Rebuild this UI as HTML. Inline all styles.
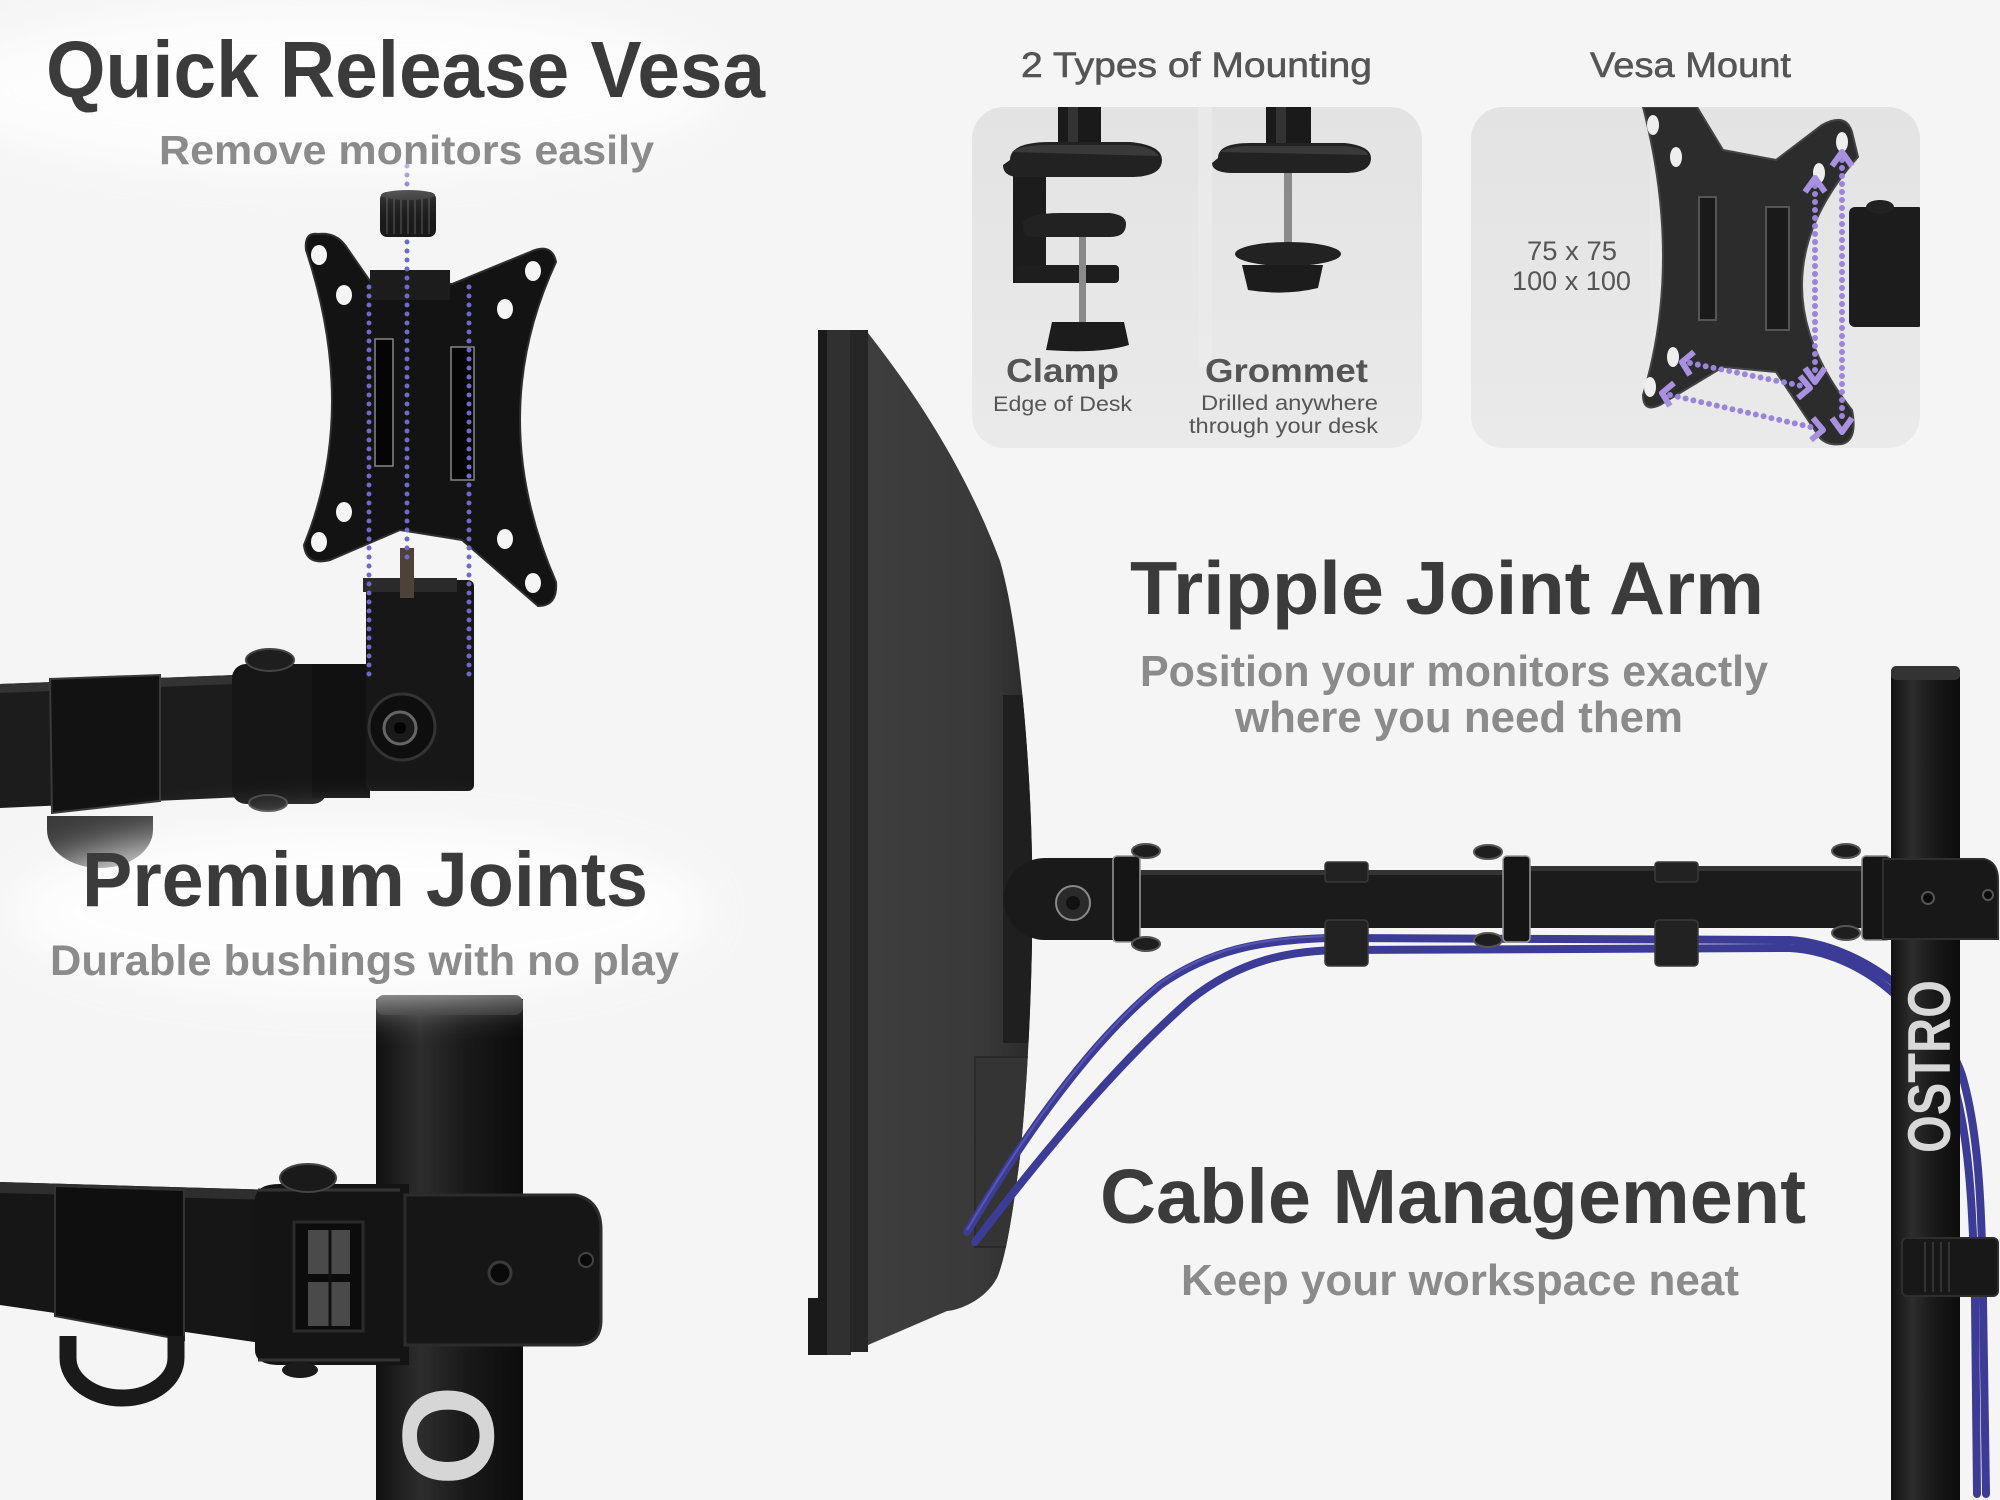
<!DOCTYPE html>
<html><head><meta charset="utf-8">
<style>
html,body{margin:0;padding:0;background:#f5f5f5;width:2000px;height:1500px;overflow:hidden;}
svg{display:block;overflow:hidden;}
text{font-family:"Liberation Sans",Arial,sans-serif;}
</style></head><body>
<svg width="2000" height="1500" viewBox="0 0 2000 1500" xmlns="http://www.w3.org/2000/svg">
<defs>
 <filter id="blur" x="-50%" y="-50%" width="200%" height="200%"><feGaussianBlur stdDeviation="22"/></filter>
 <linearGradient id="pole" x1="0" x2="1" y1="0" y2="0">
   <stop offset="0" stop-color="#111"/><stop offset="0.3" stop-color="#2d2d2d"/><stop offset="0.6" stop-color="#1a1a1a"/><stop offset="1" stop-color="#0c0c0c"/>
 </linearGradient>
 <linearGradient id="panel" x1="0" x2="0" y1="0" y2="1">
   <stop offset="0" stop-color="#e3e3e3"/><stop offset="1" stop-color="#eaeaea"/>
 </linearGradient>
 <linearGradient id="monback" x1="0" x2="1" y1="0" y2="0">
   <stop offset="0" stop-color="#3e3e3e"/><stop offset="0.7" stop-color="#393939"/><stop offset="1" stop-color="#2a2a2a"/>
 </linearGradient>
 <clipPath id="p1"><rect x="972" y="107" width="450" height="341" rx="32"/></clipPath>
 <clipPath id="p2"><rect x="1471" y="107" width="449" height="341" rx="32"/></clipPath>
 <clipPath id="all"><rect x="0" y="0" width="2000" height="1500"/></clipPath>
 <clipPath id="shell"><path d="M868,333 C900,374 960,454 1000,561 C1020,630 1030,760 1032,856 C1034,960 1028,1080 1020,1157 C1012,1220 1005,1260 997,1278 C985,1300 960,1310 947,1311 L868,1345 Z"/></clipPath>
</defs>
<g clip-path="url(#all)">
<rect width="2000" height="1500" fill="#f5f5f5"/>

<!-- ============ TOP LEFT: QUICK RELEASE ============ -->
<path d="M0,684 L312,672 L312,794 L0,808 Z" fill="#1c1c1c"/>
<path d="M0,684 L312,672 L312,681 L0,693 Z" fill="#333"/>
<path d="M50,679 L160,675 L160,801 L52,813 Z" fill="#121212" stroke="#3a3a3a" stroke-width="2"/>
<path d="M47,816 L153,816 L153,830 A53,38 0 0 1 47,830 Z" fill="#3a3a3a"/>
<rect x="232" y="664" width="95" height="140" rx="14" fill="#161616"/>
<ellipse cx="270" cy="660" rx="24" ry="11" fill="#1e1e1e" stroke="#444" stroke-width="2"/>
<ellipse cx="268" cy="803" rx="19" ry="8" fill="#1e1e1e" stroke="#444" stroke-width="2"/>
<rect x="312" y="664" width="58" height="134" fill="#111"/>
<rect x="366" y="580" width="108" height="211" rx="6" fill="#171717"/>
<rect x="363" y="578" width="94" height="14" fill="#2a2a2a"/>
<rect x="400" y="548" width="14" height="50" fill="#4d4138"/>
<circle cx="402" cy="727" r="33" fill="#0e0e0e" stroke="#333" stroke-width="3"/>
<circle cx="400" cy="728" r="16" fill="#1a1a1a" stroke="#666" stroke-width="3"/>
<circle cx="400" cy="728" r="6" fill="#000"/>
<path d="M318,234 Q335,232 345,245 L372,284 L452,284 L530,252 Q552,242 556,262 Q484,417 556,582 Q558,606 538,606 L462,540 L400,530 L330,560 Q306,566 304,545 Q359,410 306,250 Q304,232 318,234 Z" fill="#131313" stroke="#2e2e2e" stroke-width="2"/>
<rect x="370" y="270" width="80" height="30" fill="#1c1c1c"/>
<g fill="#f5f5f5">
<ellipse cx="319" cy="255" rx="8" ry="10"/><ellipse cx="344" cy="295" rx="8" ry="10"/>
<ellipse cx="533" cy="271" rx="8" ry="10"/><ellipse cx="505" cy="309" rx="8" ry="10"/>
<ellipse cx="344" cy="512" rx="8" ry="10"/><ellipse cx="319" cy="542" rx="8" ry="10"/>
<ellipse cx="505" cy="539" rx="8" ry="10"/><ellipse cx="533" cy="583" rx="8" ry="10"/>
</g>
<rect x="375" y="339" width="18" height="127" fill="#050505" stroke="#888" stroke-width="1.5"/>
<rect x="451" y="347" width="23" height="133" fill="#050505" stroke="#888" stroke-width="1.5"/>
<rect x="380" y="192" width="56" height="45" rx="7" fill="#1a1a1a"/>
<g stroke="#3a3a3a" stroke-width="2">
<line x1="387" y1="198" x2="387" y2="234"/><line x1="394" y1="198" x2="394" y2="234"/><line x1="401" y1="198" x2="401" y2="234"/>
<line x1="408" y1="198" x2="408" y2="234"/><line x1="415" y1="198" x2="415" y2="234"/><line x1="422" y1="198" x2="422" y2="234"/><line x1="429" y1="198" x2="429" y2="234"/>
</g>
<ellipse cx="408" cy="195" rx="27" ry="5" fill="#333"/>
<g stroke="#7268c8" stroke-width="5" stroke-linecap="round" stroke-dasharray="0 9" fill="none">
<line x1="407" y1="166" x2="407" y2="188"/>
<line x1="407" y1="242" x2="407" y2="560"/>
<line x1="369" y1="287" x2="369" y2="678"/>
<line x1="469" y1="287" x2="469" y2="678"/>
</g>

<!-- ============ BOTTOM LEFT: PREMIUM JOINTS ============ -->
<rect x="376" y="999" width="147" height="501" fill="url(#pole)"/>
<rect x="376" y="995" width="147" height="20" rx="8" fill="#2a2a2a"/>
<text transform="translate(493,1385) rotate(-90)" text-anchor="end" font-size="130" font-weight="bold" fill="#d6d6d6">O</text>
<path d="M0,1182 L275,1190 L275,1345 L0,1305 Z" fill="#161616"/>
<path d="M0,1182 L275,1190 L275,1200 L0,1193 Z" fill="#2e2e2e"/>
<path d="M55,1186 L184,1190 L184,1340 L55,1316 Z" fill="#0f0f0f" stroke="#333" stroke-width="2"/>
<path d="M68,1336 L68,1358 A54,40 0 0 0 176,1358 L176,1336" fill="none" stroke="#1a1a1a" stroke-width="17"/>
<path d="M255,1200 Q255,1184 280,1184 L409,1184 L409,1365 L280,1365 Q255,1365 255,1350 Z" fill="#141414"/>
<path d="M258,1190 L400,1190" stroke="#333" stroke-width="3"/>
<path d="M258,1360 L400,1360" stroke="#333" stroke-width="3"/>
<rect x="294" y="1222" width="69" height="109" fill="#0c0c0c" stroke="#2a2a2a" stroke-width="3"/>
<rect x="308" y="1230" width="42" height="44" fill="#4a4a4a"/>
<rect x="308" y="1282" width="42" height="44" fill="#4a4a4a"/>
<line x1="330" y1="1230" x2="330" y2="1326" stroke="#111" stroke-width="3"/>
<ellipse cx="308" cy="1178" rx="28" ry="14" fill="#1a1a1a" stroke="#444" stroke-width="2"/>
<ellipse cx="300" cy="1370" rx="18" ry="8" fill="#1a1a1a"/>
<path d="M405,1195 L575,1195 Q601,1200 601,1230 L601,1320 Q601,1345 575,1345 L405,1345 Z" fill="#161616" stroke="#2c2c2c" stroke-width="3"/>
<circle cx="500" cy="1273" r="11" fill="#0a0a0a" stroke="#3a3a3a" stroke-width="3"/>
<circle cx="586" cy="1260" r="7" fill="#0a0a0a" stroke="#444" stroke-width="2"/>

<!-- glows -->
<ellipse cx="330" cy="90" rx="390" ry="85" fill="#ffffff" opacity="0.8" filter="url(#blur)"/>
<ellipse cx="360" cy="912" rx="350" ry="85" fill="#ffffff" opacity="0.85" filter="url(#blur)"/>

<text x="46" y="97" font-size="80" font-weight="bold" fill="#3b3b3b" textLength="719" lengthAdjust="spacingAndGlyphs">Quick Release Vesa</text>
<text x="159" y="164" font-size="41" font-weight="bold" fill="#8b8b8b" textLength="495" lengthAdjust="spacingAndGlyphs">Remove monitors easily</text>
<text x="82" y="906" font-size="77" font-weight="bold" fill="#3b3b3b" textLength="566" lengthAdjust="spacingAndGlyphs">Premium Joints</text>
<text x="50" y="975" font-size="43" font-weight="bold" fill="#8b8b8b" textLength="629" lengthAdjust="spacingAndGlyphs">Durable bushings with no play</text>

<!-- ============ TOP RIGHT PANELS ============ -->
<text x="1021" y="77" font-size="35" fill="#555" stroke="#555" stroke-width="0.6" textLength="351" lengthAdjust="spacingAndGlyphs">2 Types of Mounting</text>
<text x="1590" y="77" font-size="35" fill="#555" stroke="#555" stroke-width="0.6" textLength="201" lengthAdjust="spacingAndGlyphs">Vesa Mount</text>
<rect x="972" y="107" width="450" height="341" rx="32" fill="url(#panel)"/>
<rect x="1471" y="107" width="449" height="341" rx="32" fill="url(#panel)"/>
<rect x="1198" y="107" width="14" height="260" fill="#ececec" opacity="0.6"/>
<rect x="1650" y="107" width="14" height="320" fill="#ececec" opacity="0.5"/>

<g clip-path="url(#p1)">
 <rect x="1058" y="100" width="43" height="55" fill="#1a1a1a"/>
 <rect x="1068" y="100" width="10" height="55" fill="#333"/>
 <rect x="1013" y="168" width="33" height="115" fill="#1c1c1c"/>
 <path d="M1010,160 Q1010,142 1050,142 L1130,142 Q1162,145 1162,160 Q1162,177 1130,177 L1020,177 Q1003,177 1003,165 Z" fill="#222"/>
 <path d="M1012,152 Q1020,145 1050,145 L1130,145 Q1155,147 1158,156 Z" fill="#3a3a3a"/>
 <path d="M1023,222 Q1030,213 1060,213 L1110,213 Q1126,215 1126,224 Q1126,237 1110,237 L1030,237 Q1023,235 1023,228 Z" fill="#222"/>
 <rect x="1016" y="265" width="103" height="18" rx="4" fill="#1e1e1e"/>
 <rect x="1079" y="237" width="7" height="86" fill="#8a8a8a"/>
 <path d="M1052,322 L1124,322 L1129,345 Q1100,354 1046,350 Z" fill="#1c1c1c"/>
 <rect x="1266" y="100" width="45" height="55" fill="#1a1a1a"/>
 <rect x="1276" y="100" width="10" height="55" fill="#333"/>
 <path d="M1218,158 Q1218,143 1250,143 L1345,143 Q1371,146 1371,158 Q1371,173 1345,173 L1230,173 Q1212,172 1212,163 Z" fill="#222"/>
 <path d="M1220,152 Q1230,146 1250,146 L1345,146 Q1366,148 1368,155 Z" fill="#3a3a3a"/>
 <rect x="1284" y="173" width="8" height="74" fill="#8a8a8a"/>
 <ellipse cx="1288" cy="254" rx="53" ry="12" fill="#222"/>
 <path d="M1242,265 L1323,265 L1318,288 Q1285,296 1248,290 Z" fill="#1c1c1c"/>
</g>

<g clip-path="url(#p2)">
 <path d="M1643,107 L1697,107 L1723,150 L1776,160 L1822,125 Q1846,112 1852,132 L1858,157 Q1749,280 1852,410 Q1858,440 1842,444 Q1828,446 1820,438 L1776,372 L1723,367 L1660,405 Q1643,413 1643,395 Q1683,262 1643,107 Z" fill="#2c2c2c" stroke="#444" stroke-width="2"/>
 <rect x="1849" y="207" width="75" height="120" rx="6" fill="#1c1c1c"/>
 <ellipse cx="1880" cy="207" rx="14" ry="7" fill="#222"/>
 <g fill="#eeeeee">
  <ellipse cx="1653" cy="125" rx="6" ry="10"/><ellipse cx="1676" cy="157" rx="6" ry="10"/>
  <ellipse cx="1842" cy="142" rx="6" ry="10"/><ellipse cx="1819" cy="173" rx="6" ry="10"/>
  <ellipse cx="1673" cy="357" rx="6" ry="10"/><ellipse cx="1650" cy="387" rx="6" ry="10"/>
 </g>
 <rect x="1699" y="197" width="17" height="123" fill="#1a1a1a" stroke="#555" stroke-width="2"/>
 <rect x="1766" y="207" width="23" height="123" fill="#1a1a1a" stroke="#555" stroke-width="2"/>
 <g stroke="#9a86d8" stroke-width="6" stroke-linecap="round" stroke-dasharray="0 8" fill="none">
  <line x1="1815" y1="186" x2="1815" y2="374"/>
  <line x1="1842" y1="160" x2="1842" y2="424"/>
  <line x1="1690" y1="363" x2="1802" y2="386"/>
  <line x1="1670" y1="395" x2="1815" y2="428"/>
 </g>
 <g fill="none" stroke="#a892e0" stroke-width="6" stroke-linejoin="round">
  <polyline points="1805,192 1815,178 1825,192"/>
  <polyline points="1832,166 1842,152 1852,166"/>
  <polyline points="1805,368 1815,382 1825,368"/>
  <polyline points="1832,418 1842,432 1852,418"/>
  <polyline points="1694,352 1682,362 1690,375"/>
  <polyline points="1674,383 1662,393 1670,406"/>
  <polyline points="1800,376 1810,388 1798,398"/>
  <polyline points="1813,418 1823,430 1811,440"/>
 </g>
</g>

<text x="1006" y="382" font-size="33" font-weight="bold" fill="#555" textLength="113" lengthAdjust="spacingAndGlyphs">Clamp</text>
<text x="993" y="411" font-size="21" fill="#555" textLength="139" lengthAdjust="spacingAndGlyphs">Edge of Desk</text>
<text x="1205" y="382" font-size="33" font-weight="bold" fill="#555" textLength="163" lengthAdjust="spacingAndGlyphs">Grommet</text>
<text x="1201" y="410" font-size="21" fill="#555" textLength="177" lengthAdjust="spacingAndGlyphs">Drilled anywhere</text>
<text x="1189" y="433" font-size="21" fill="#555" textLength="189" lengthAdjust="spacingAndGlyphs">through your desk</text>
<text x="1527" y="260" font-size="27" fill="#555" textLength="90" lengthAdjust="spacingAndGlyphs">75 x 75</text>
<text x="1512" y="290" font-size="27" fill="#555" textLength="119" lengthAdjust="spacingAndGlyphs">100 x 100</text>

<!-- ============ RIGHT: MONITOR + ARM ============ -->
<path d="M868,333 C900,374 960,454 1000,561 C1020,630 1030,760 1032,856 C1034,960 1028,1080 1020,1157 C1012,1220 1005,1260 997,1278 C985,1300 960,1310 947,1311 L868,1345 Z" fill="url(#monback)"/>
<g clip-path="url(#shell)">
<rect x="1003" y="695" width="40" height="348" fill="#1f1f1f"/>
<rect x="975" y="1057" width="70" height="190" fill="#343434" stroke="#2a2a2a" stroke-width="2"/>
</g>
<rect x="818" y="330" width="10" height="1025" fill="#1a1a1a"/>
<rect x="827" y="330" width="24" height="1025" fill="#303030"/>
<rect x="850" y="330" width="18" height="1022" fill="#262626"/>
<rect x="808" y="1298" width="12" height="57" fill="#1a1a1a"/>

<g fill="none" stroke="#3c3b96" stroke-width="8" stroke-linecap="round">
<path d="M967,1232 C1010,1160 1080,1050 1160,985 C1210,950 1260,940 1330,938 L1790,940 C1860,945 1935,1000 1962,1075 C1978,1130 1982,1200 1983,1300 L1986,1494"/>
<path d="M975,1242 C1030,1170 1110,1070 1190,1000 C1240,960 1290,950 1345,950 L1790,948 C1860,952 1928,1008 1953,1082 C1968,1132 1973,1200 1975,1300 L1977,1494"/>
</g>
<g fill="none" stroke="#6a69c4" stroke-width="2" opacity="0.6">
<path d="M967,1230 C1010,1158 1080,1048 1160,983 C1210,948 1260,938 1330,936"/>
</g>

<path d="M1045,858 L1117,858 L1117,940 L1045,940 A41,41 0 0 1 1045,858 Z" fill="#1a1a1a"/>
<circle cx="1073" cy="903" r="17" fill="#2a2a2a" stroke="#8a8a8a" stroke-width="2"/>
<circle cx="1073" cy="903" r="7" fill="#111"/>
<rect x="1130" y="870" width="390" height="58" fill="#1b1b1b"/>
<rect x="1130" y="870" width="390" height="5" fill="#333"/>
<rect x="1525" y="866" width="365" height="62" fill="#1b1b1b"/>
<rect x="1525" y="866" width="365" height="5" fill="#333"/>
<rect x="1113" y="856" width="27" height="86" rx="4" fill="#151515" stroke="#9a9a9a" stroke-width="1.5"/>
<rect x="1503" y="856" width="27" height="86" rx="4" fill="#151515" stroke="#9a9a9a" stroke-width="1.5"/>
<rect x="1862" y="856" width="28" height="84" rx="4" fill="#151515" stroke="#8a8a8a" stroke-width="1.5"/>
<g fill="#1e1e1e" stroke="#555" stroke-width="2">
<ellipse cx="1146" cy="851" rx="14" ry="7"/><ellipse cx="1488" cy="852" rx="14" ry="7"/><ellipse cx="1846" cy="851" rx="14" ry="7"/>
<ellipse cx="1146" cy="944" rx="14" ry="7"/><ellipse cx="1488" cy="940" rx="14" ry="7"/><ellipse cx="1846" cy="933" rx="14" ry="7"/>
</g>
<g fill="#222" stroke="#3a3a3a" stroke-width="1.5">
<rect x="1325" y="862" width="43" height="20" rx="3"/><rect x="1325" y="920" width="43" height="46" rx="4"/>
<rect x="1655" y="862" width="43" height="20" rx="3"/><rect x="1655" y="920" width="43" height="46" rx="4"/>
</g>

<rect x="1891" y="670" width="69" height="830" fill="url(#pole)"/>
<rect x="1891" y="666" width="69" height="14" rx="5" fill="#333"/>
<path d="M1883,859 L1984,859 Q1998,862 1998,880 L1998,939 L1883,939 Z" fill="#181818" stroke="#2e2e2e" stroke-width="2"/>
<circle cx="1928" cy="898" r="6" fill="#0a0a0a" stroke="#555" stroke-width="2"/>
<circle cx="1988" cy="895" r="5" fill="#0a0a0a" stroke="#555" stroke-width="2"/>
<text transform="translate(1950,1153) rotate(-90)" font-size="60" font-weight="bold" fill="#d8d8d8" textLength="173" lengthAdjust="spacingAndGlyphs">OSTRO</text>
<rect x="1902" y="1238" width="96" height="58" rx="5" fill="#181818" stroke="#2e2e2e" stroke-width="2"/>
<g stroke="#333" stroke-width="2"><line x1="1925" y1="1242" x2="1925" y2="1292"/><line x1="1933" y1="1242" x2="1933" y2="1292"/><line x1="1941" y1="1242" x2="1941" y2="1292"/><line x1="1949" y1="1242" x2="1949" y2="1292"/></g>

<text x="1130" y="614" font-size="75" font-weight="bold" fill="#3b3b3b" textLength="634" lengthAdjust="spacingAndGlyphs">Tripple Joint Arm</text>
<text x="1140" y="686" font-size="44" font-weight="bold" fill="#8b8b8b" textLength="628" lengthAdjust="spacingAndGlyphs">Position your monitors exactly</text>
<text x="1235" y="732" font-size="44" font-weight="bold" fill="#8b8b8b" textLength="448" lengthAdjust="spacingAndGlyphs">where you need them</text>
<text x="1100" y="1223" font-size="77" font-weight="bold" fill="#3b3b3b" textLength="706" lengthAdjust="spacingAndGlyphs">Cable Management</text>
<text x="1181" y="1295" font-size="44" font-weight="bold" fill="#8b8b8b" textLength="558" lengthAdjust="spacingAndGlyphs">Keep your workspace neat</text>
</g>
</svg>
</body></html>
